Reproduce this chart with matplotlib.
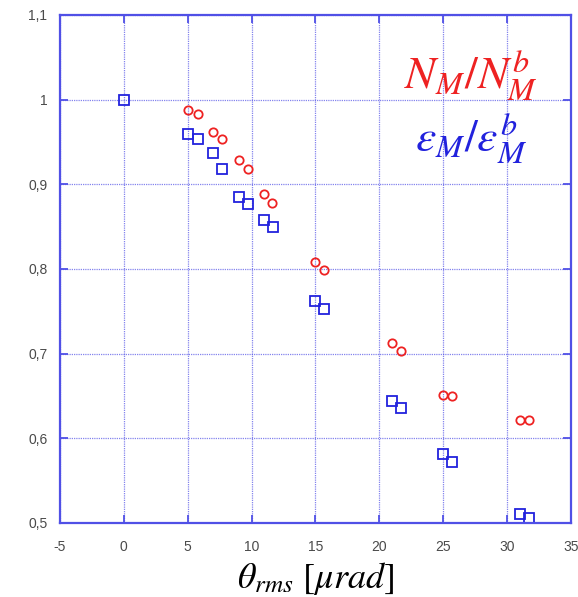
#!/usr/bin/env python3
"""Normalised particle number and emittance versus rms scattering angle."""

import matplotlib
matplotlib.use("Agg")
import matplotlib.pyplot as plt

# rms angle [urad] and ratios
theta_n = [5.0, 5.8, 7.0, 7.7, 9.0, 9.7, 11.0, 11.6, 15.0, 15.7, 21.0, 21.7, 25.0, 25.7, 31.0, 31.7]
n_ratio = [0.988, 0.983, 0.962, 0.953, 0.929, 0.918, 0.889, 0.878, 0.808, 0.799,
           0.712, 0.703, 0.651, 0.650, 0.622, 0.622]

theta_e = [0.0, 5.0, 5.8, 7.0, 7.7, 9.0, 9.7, 11.0, 11.7, 15.0, 15.7, 21.0, 21.7, 25.0, 25.7, 31.0, 31.7]
e_ratio = [1.000, 0.959, 0.953, 0.937, 0.918, 0.885, 0.877, 0.858, 0.849, 0.762, 0.753,
           0.644, 0.636, 0.582, 0.572, 0.511, 0.506]

x_ticks = [-5, 0, 5, 10, 15, 20, 25, 30, 35]
y_ticks = [0.5, 0.6, 0.7, 0.8, 0.9, 1.0, 1.1]
y_tick_labels = ["0,5", "0,6", "0,7", "0,8", "0,9", "1", "1,1"]

AXIS_BLUE = "#5050e6"
RED = "#ee2222"
BLUE = "#2222dd"

plt.rcParams.update({
    "font.family": ["Liberation Sans", "DejaVu Sans"],
    "mathtext.fontset": "stix",
})

fig = plt.figure(figsize=(5.78, 5.97), dpi=100)
ax = fig.add_axes([0.1038, 0.124, 0.884, 0.851])

ax.plot(theta_n, n_ratio, linestyle="none", marker="o", markersize=6,
        markerfacecolor="none", markeredgecolor=RED, markeredgewidth=1.3)
ax.plot(theta_e, e_ratio, linestyle="none", marker="s", markersize=6.5,
        markerfacecolor="none", markeredgecolor=BLUE, markeredgewidth=1.3)

ax.set_xlim(-5, 35)
ax.set_ylim(0.5, 1.1)
ax.set_xticks(x_ticks)
ax.set_xticklabels([str(t) for t in x_ticks])
ax.set_yticks(y_ticks)
ax.set_yticklabels(y_tick_labels)

ax.grid(True, color=AXIS_BLUE, linestyle=(0, (1, 0.8)), linewidth=0.9, alpha=0.7)
for side in ax.spines.values():
    side.set_color(AXIS_BLUE)
    side.set_linewidth(1.6)
ax.tick_params(direction="in", length=6, width=1.3, color=AXIS_BLUE,
               top=True, right=True, labelsize=10, labelcolor="#4a4a4a")
ax.tick_params(axis="x", pad=12)
ax.tick_params(axis="y", pad=9)

ax.text(0.935, 0.88, r"$N_M/N_M^b$", transform=ax.transAxes, color=RED,
        fontsize=33, ha="right", va="center")
ax.text(0.915, 0.755, r"$\varepsilon_M/\varepsilon_M^b$", transform=ax.transAxes, color=BLUE,
        fontsize=33, ha="right", va="center")

ax.set_xlabel(r"$\theta_{rms}\ [\mu rad]$", fontsize=26, va="center")
ax.xaxis.set_label_coords(0.5, -0.11)

fig.savefig("out.png", dpi=100)
